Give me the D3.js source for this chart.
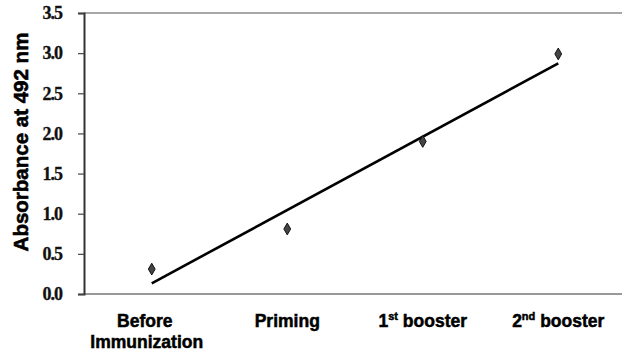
<!DOCTYPE html>
<html>
<head>
<meta charset="utf-8">
<script src="https://cdn.jsdelivr.net/npm/d3@7"></script>
<style>
  body { margin: 0; background: #fff; }
</style>
</head>
<body>
<svg id="chart" width="622" height="353"></svg>
<script>
    const categories = ["Before|Immunization", "Priming", "1|st| booster", "2|nd| booster"];
    const absorbance = [0.31, 0.81, 1.9, 2.99];
    const yTicks = [0.0, 0.5, 1.0, 1.5, 2.0, 2.5, 3.0, 3.5];

    const svg = d3.select("#chart");
    const width = +svg.attr("width");
    const height = +svg.attr("height");
    const margin = { top: 13, right: 0, bottom: 59, left: 84 };

    const x = d3.scalePoint()
                .domain(categories)
                .range([margin.left, width + 4])
                .padding(0.5);
    const y = d3.scaleLinear()
                .domain([0, 3.5])
                .range([height - margin.bottom, margin.top]);

    // top frame line
    svg.append("line")
        .attr("x1", margin.left).attr("x2", width)
        .attr("y1", y(3.5)).attr("y2", y(3.5))
        .attr("stroke", "#8a8a8a").attr("stroke-width", 1.5);

    // bottom axis line
    svg.append("line")
        .attr("x1", margin.left).attr("x2", width)
        .attr("y1", y(0)).attr("y2", y(0))
        .attr("stroke", "#777").attr("stroke-width", 1.5);

    // y axis
    const yAxis = svg.append("g")
        .attr("transform", "translate(" + margin.left + ",0)")
        .call(d3.axisLeft(y).tickValues(yTicks).tickSize(6).tickPadding(16)
              .tickFormat(d3.format(".1f")));
    yAxis.select(".domain").attr("stroke", "#333").attr("stroke-width", 2);
    yAxis.selectAll(".tick line").attr("stroke", "#444").attr("stroke-width", 1.2);
    yAxis.selectAll(".tick text")
        .style("font-family", "'Liberation Serif', 'DejaVu Serif', serif")
        .style("font-weight", "bold")
        .style("font-size", "18px")
        .style("letter-spacing", "-1px")
        .attr("fill", "#111")
        .attr("stroke", "#111")
        .attr("stroke-width", 0.3);

    // y label
    svg.append("text")
        .attr("transform", "translate(28," + 142 + ") rotate(-90)")
        .attr("text-anchor", "middle")
        .style("font-family", "'Liberation Sans', Arial, sans-serif")
        .style("font-weight", "bold")
        .style("font-size", "20.5px")
        .attr("fill", "#000")
        .attr("stroke", "#000")
        .attr("stroke-width", 0.6)
        .text("Absorbance at 492 nm");

    // x labels
    categories.forEach(function(c) {
        const parts = c.split("|");
        const t = svg.append("text")
            .attr("x", x(c))
            .attr("y", 327)
            .attr("text-anchor", "middle")
            .style("font-family", "'Liberation Sans', Arial, sans-serif")
            .style("font-weight", "bold")
            .style("font-size", "17.5px")
            .attr("fill", "#000")
            .attr("stroke", "#000")
            .attr("stroke-width", 0.5);
        if (parts.length === 3) {
            t.append("tspan").text(parts[0]);
            t.append("tspan").style("font-size", "11px").attr("dy", -7).text(parts[1]);
            t.append("tspan").attr("dy", 7).text(parts[2]);
        } else if (parts.length === 2) {
            t.append("tspan").attr("x", x(c) - 7).text(parts[0]);
            t.append("tspan").attr("x", x(c) - 5).attr("dy", 21).text(parts[1]);
        } else {
            t.text(c);
        }
    });

    // linear trendline
    const n = absorbance.length;
    const mx = d3.mean(absorbance, (d, i) => i);
    const my = d3.mean(absorbance);
    const slope = d3.sum(absorbance, (d, i) => (i - mx) * (d - my)) /
                  d3.sum(absorbance, (d, i) => (i - mx) * (i - mx));
    const intercept = my - slope * mx;
    svg.append("line")
        .attr("x1", x(categories[0])).attr("y1", y(intercept))
        .attr("x2", x(categories[n - 1])).attr("y2", y(intercept + slope * (n - 1)))
        .attr("stroke", "#000").attr("stroke-width", 2.6);

    // markers
    svg.selectAll(".pt")
        .data(absorbance)
        .join("path")
        .attr("class", "pt")
        .attr("transform", (d, i) => "translate(" + x(categories[i]) + "," + y(d) + ")")
        .attr("d", d3.symbol().type(d3.symbolDiamond).size(40))
        .attr("fill", "#444")
        .attr("stroke", "#111")
        .attr("stroke-width", 1);
</script>
</body>
</html>
